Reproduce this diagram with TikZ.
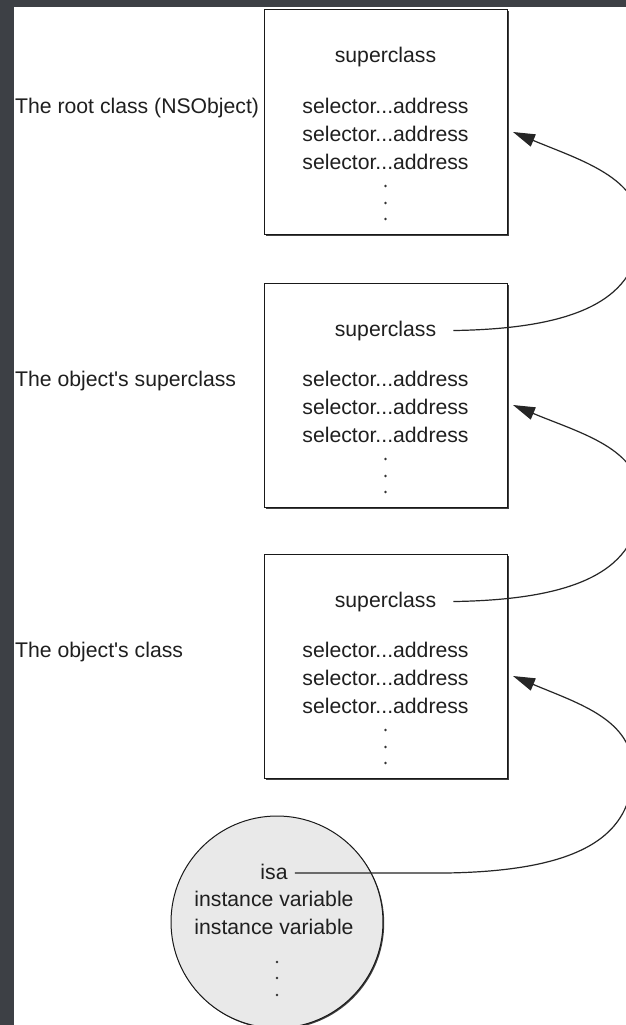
\documentclass[tikz,border=0pt]{standalone}
\usepackage{fontspec}
\setmainfont{Liberation Sans}
\usepackage{tikz}
\usetikzlibrary{arrows.meta,shadows}
\definecolor{framegray}{HTML}{3D4045}
\definecolor{objgray}{HTML}{E9E9E9}
\newcommand{\classtable}[3]{
  \node[classbox] (#1) at (385.5,{#2+112}) {};
  \node[lbl] (#1-lbl) at (15,{#2+103}) {#3};
  \node[txt] (#1-sup) at (385.5,{#2+53}) {superclass};
  \foreach \y [count=\i] in {103,131,159}{
    \node[txt] (#1-sel\i) at (385.5,{#2+\y}) {selector...address};
  }
  \foreach \y [count=\i] in {176,193,209}{
    \node[dotmark] (#1-dot\i) at (385.5,{#2+\y}) {};
  }
  \coordinate (#1-in) at (513,{#2+122});
}

\begin{document}
\begin{tikzpicture}[x=1pt,y=-1pt,
    txt/.style={anchor=base,inner sep=0pt,text=black!88,font=\fontsize{21.2}{28}\selectfont},
    lbl/.style={txt,anchor=base west},
    dotmark/.style={circle,fill=black!80,inner sep=0pt,minimum size=2.8pt},
    classbox/.style={rectangle,draw=black!90,fill=white,line width=1pt,
      minimum width=243pt,minimum height=224pt,
      drop shadow={shadow xshift=1.5pt,shadow yshift=-1.5pt,fill=black!75,opacity=1}},
    objcircle/.style={circle,draw=black!90,fill=objgray,line width=1pt,minimum size=212pt,
      drop shadow={shadow xshift=1.2pt,shadow yshift=-1.2pt,fill=black!75,opacity=1}},
    link/.style={draw=black!85,line width=1.2pt,-{Triangle[length=22pt,width=13pt]}}]
  \useasboundingbox (0,0) rectangle (626,1025);
  \fill[framegray] (0,0) rectangle (626,1025);
  \fill[white] (14,7) rectangle (626,1025);
  \clip (0,0) rectangle (626,1025);
  % the three class tables
  \classtable{root}{10}{The root class (NSObject)}
  \classtable{super}{283}{The object\textquotesingle s superclass}
  \classtable{cls}{554}{The object\textquotesingle s class}
  % the object
  \node[objcircle] (obj) at (277,922) {};
  \node[txt] (isa) at (274,879) {isa};
  \node[txt] (ivar1) at (274,906) {instance variable};
  \node[txt] (ivar2) at (274,934) {instance variable};
  \foreach \y [count=\i] in {962,978,995}{
    \node[dotmark] (obj-dot\i) at (277,\y) {};
  }
  % superclass and isa pointers
  \draw[link] ([shift={(17,0)}]super-sup.east) .. controls +(137,-2) and +(0,65) .. ++(187,-103)
    .. controls +(0,-50) and +(67,28) .. (root-in);
  \draw[link] ([shift={(17,0)}]cls-sup.east) .. controls +(137,-2) and +(0,65) .. ++(187,-103)
    .. controls +(0,-50) and +(67,28) .. (super-in);
  \draw[link] ([shift={(7,-6)}]isa.base east) -- ++(151,0) .. controls +(137,-2) and +(0,65) .. ++(187,-103)
    .. controls +(0,-50) and +(67,28) .. (cls-in);
\end{tikzpicture}
\end{document}
